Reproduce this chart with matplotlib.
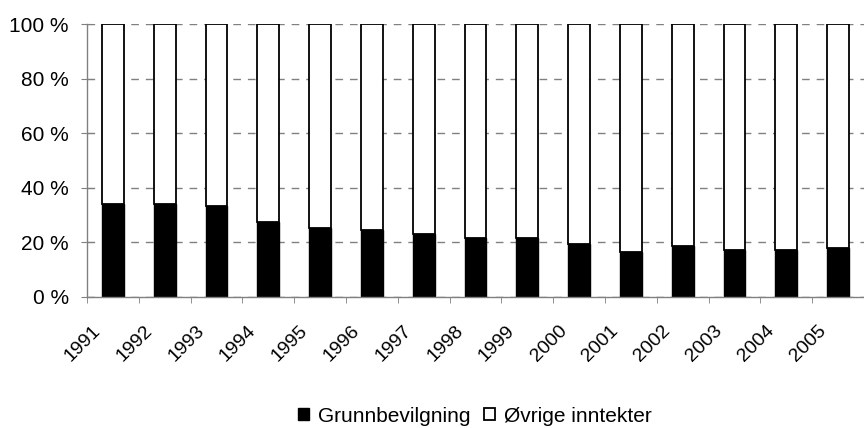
import matplotlib
matplotlib.use("Agg")
import matplotlib.pyplot as plt
import matplotlib.transforms as mtransforms
import numpy as np
from matplotlib.patches import Patch

years = ["1991", "1992", "1993", "1994", "1995", "1996", "1997", "1998",
         "1999", "2000", "2001", "2002", "2003", "2004", "2005"]
grunnbevilgning = [34.2, 34.2, 33.5, 27.6, 25.3, 24.6, 23.2, 21.7,
                   21.7, 19.5, 16.5, 18.8, 17.3, 17.3, 18.0]
ovrige = [100 - g for g in grunnbevilgning]
yticks = [0, 20, 40, 60, 80, 100]
ytick_labels = ["0 %", "20 %", "40 %", "60 %", "80 %", "100 %"]

plt.rcParams['font.family'] = ['Liberation Sans', 'DejaVu Sans']
FS = 15
fig = plt.figure(figsize=(8.64, 4.28), dpi=100)
ax = fig.add_axes([87/864, 1 - 297/428, (864 - 87)/864, (297 - 24)/428])

x = np.arange(len(years))
w = 0.42
ax.bar(x, grunnbevilgning, width=w, color='black', edgecolor='black', linewidth=1, zorder=3)
ax.bar(x, ovrige, width=w, bottom=grunnbevilgning, color='white', edgecolor='black', linewidth=1.3, zorder=3)

ax.set_xlim(-0.5, len(years) - 0.5)
ax.set_ylim(0, 100)
ax.set_yticks(yticks)
ax.set_yticklabels(ytick_labels, fontsize=FS)
ax.yaxis.grid(True, linestyle=(0, (5.5, 5)), color='#808080', linewidth=1, zorder=0)

ax.set_xticks(x)
ax.set_xticklabels(years, rotation=45, ha='right', va='top', rotation_mode='anchor', fontsize=14)
ax.tick_params(axis='x', length=0, pad=18)
offset = mtransforms.ScaledTranslation(-21/100, 0, fig.dpi_scale_trans)
for lbl in ax.get_xticklabels():
    lbl.set_transform(lbl.get_transform() + offset)
ax.set_xticks(np.arange(-0.5, len(years), 1), minor=True)
ax.tick_params(axis='x', which='minor', length=4.5, color='#808080', direction='out')
ax.tick_params(axis='y', length=9, color='#808080', direction='inout', pad=8.5)

for s in ['top', 'right']:
    ax.spines[s].set_visible(False)
for s in ['left', 'bottom']:
    ax.spines[s].set_color('#808080')
    ax.spines[s].set_linewidth(1)
    ax.spines[s].set_zorder(4)

handles = [Patch(facecolor='black', edgecolor='black', label='Grunnbevilgning'),
           Patch(facecolor='white', edgecolor='black', linewidth=1.3, label='Øvrige inntekter')]
fig.legend(handles=handles, loc='center', bbox_to_anchor=(475/864, 1 - 416/428), ncol=2,
           frameon=False, fontsize=FS, handlelength=0.5, handleheight=0.5,
           handletextpad=0.45, columnspacing=0.65, borderpad=0, borderaxespad=0)

fig.savefig("out.png", dpi=100)
